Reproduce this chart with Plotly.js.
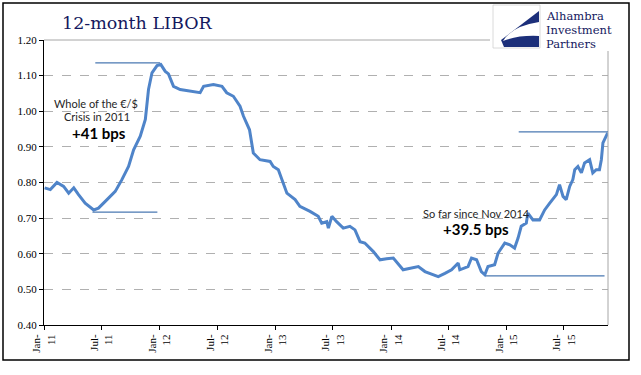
<!DOCTYPE html>
<html>
<head>
<meta charset="utf-8">
<script src="https://cdn.plot.ly/plotly-3.0.1.min.js"></script>
<style>html,body{margin:0;padding:0;background:#fff;}#chart{width:641px;height:375px;}</style>
</head>
<body>
<div id="chart"></div>
<script>
// ---- data ----
const dates = [
"2011-01-03","2011-01-21","2011-02-11","2011-03-04","2011-03-20","2011-04-05","2011-04-20","2011-05-11","2011-06-07","2011-06-22",
"2011-07-19","2011-08-14","2011-09-04","2011-09-25","2011-10-11","2011-11-01","2011-11-17","2011-11-27","2011-12-08","2011-12-24",
"2012-01-05","2012-01-19","2012-01-29","2012-02-14","2012-03-06","2012-04-07","2012-05-08","2012-05-19","2012-06-19","2012-07-16",
"2012-07-31","2012-08-21","2012-09-11","2012-09-22","2012-10-11","2012-10-23","2012-11-13","2012-12-15","2012-12-25","2013-01-10",
"2013-01-26","2013-02-06","2013-03-04","2013-03-19","2013-04-20","2013-05-16","2013-05-27","2013-06-12","2013-06-17","2013-06-28",
"2013-07-13","2013-08-03","2013-08-24","2013-09-09","2013-09-25","2013-10-10","2013-11-06","2013-11-27","2013-12-18","2014-01-08",
"2014-02-08","2014-03-12","2014-03-28","2014-04-18","2014-05-14","2014-05-30","2014-06-20","2014-07-11","2014-08-01","2014-08-06",
"2014-09-01","2014-09-12","2014-09-28","2014-10-13","2014-10-24","2014-11-03","2014-11-24","2014-12-05","2014-12-26","2015-01-11",
"2015-01-26","2015-02-06","2015-02-16","2015-03-04","2015-03-09","2015-03-25","2015-04-15","2015-05-01","2015-05-17","2015-05-27",
"2015-06-07","2015-06-17","2015-06-28","2015-07-08","2015-07-19","2015-07-29","2015-08-04","2015-08-14","2015-08-25","2015-09-04",
"2015-09-20","2015-09-30","2015-10-11","2015-10-21","2015-10-27","2015-11-01","2015-11-12","2015-11-16"
];
const libor = [
0.785,0.780,0.800,0.789,0.770,0.785,0.766,0.742,0.723,0.728,
0.752,0.775,0.808,0.845,0.892,0.930,0.977,1.061,1.108,1.128,
1.131,1.112,1.105,1.070,1.061,1.056,1.052,1.070,1.075,1.070,
1.052,1.042,1.014,0.986,0.948,0.883,0.864,0.859,0.845,0.836,
0.799,0.770,0.752,0.733,0.719,0.705,0.686,0.690,0.672,0.705,
0.690,0.672,0.677,0.667,0.634,0.630,0.606,0.583,0.586,0.588,
0.555,0.560,0.564,0.550,0.541,0.536,0.545,0.555,0.574,0.555,
0.564,0.588,0.583,0.550,0.541,0.564,0.569,0.602,0.630,0.625,
0.616,0.644,0.677,0.686,0.714,0.695,0.695,0.723,0.742,0.752,
0.766,0.794,0.761,0.752,0.789,0.808,0.836,0.845,0.827,0.855,
0.864,0.827,0.836,0.836,0.864,0.911,0.934,0.939
];
const tickDates = ["2011-01-01","2011-07-01","2012-01-01","2012-07-01","2013-01-01","2013-07-01","2014-01-01","2014-07-01","2015-01-01","2015-07-01"];
const tickLabels = ["Jan-<br>11","Jul-<br>11","Jan-<br>12","Jul-<br>12","Jan-<br>13","Jul-<br>13","Jan-<br>14","Jul-<br>14","Jan-<br>15","Jul-<br>15"];
const yTicks = [0.4,0.5,0.6,0.7,0.8,0.9,1.0,1.1,1.2];
const yTickLabels = ["0.40","0.50","0.60","0.70","0.80","0.90","1.00","1.10","1.20"];

// ---- layout helpers (pixel -> paper) ----
const L=44, R=608, T=40, B=325;
const px = x => (x - L) / (R - L);
const py = y => (B - y) / (B - T);

const lineCol = '#4f84c9';
const refCol = '#4a78b2';
const navy = '#14185e';

const trace = {
  x: dates, y: libor, type: 'scatter', mode: 'lines',
  line: {color: lineCol, width: 3}, hoverinfo: 'skip', cliponaxis: true
};

const logoPath = (pts) => pts.map((p,i)=> (i===0?'M ':'L ') + px(p[0]).toFixed(4) + ',' + py(p[1]).toFixed(4)).join(' ') + ' Z';

const shapes = [
  {type:'rect', xref:'paper', yref:'paper', x0:px(3), x1:px(629), y0:py(3), y1:py(360), line:{color:'#000', width:1.5}, layer:'below'},
  {type:'line', xref:'paper', yref:'paper', x0:0, x1:1, y0:1, y1:1, line:{color:'#a6a6a6', width:1}},
  {type:'line', xref:'paper', yref:'paper', x0:1, x1:1, y0:0, y1:1, line:{color:'#a6a6a6', width:1}},
  {type:'line', xref:'x', yref:'y', x0:'2011-06-12', x1:'2012-01-03', y0:1.136, y1:1.136, line:{color:refCol, width:1.2}},
  {type:'line', xref:'x', yref:'y', x0:'2011-06-03', x1:'2011-12-25', y0:0.717, y1:0.717, line:{color:refCol, width:1.2}},
  {type:'line', xref:'x', yref:'y', x0:'2015-02-08', x1:'2015-11-17', y0:0.942, y1:0.942, line:{color:refCol, width:1.2}},
  {type:'line', xref:'x', yref:'y', x0:'2014-10-27', x1:'2015-11-06', y0:0.538, y1:0.538, line:{color:refCol, width:1.2}},
  {type:'rect', xref:'paper', yref:'paper', x0:px(490), x1:px(628), y0:py(4), y1:py(51), fillcolor:'#fff', line:{width:0}, layer:'above'},
  {type:'rect', xref:'paper', yref:'paper', x0:px(493), x1:px(540), y0:py(5), y1:py(48), fillcolor:'#fff', line:{color:'#d0d0d0', width:0.8}, layer:'above'},
  {type:'path', xref:'paper', yref:'paper', layer:'above', fillcolor:'#1c2f7a', line:{width:0},
   path: logoPath([[539,11],[501,40],[504,47],[539,47]])},
  {type:'path', xref:'paper', yref:'paper', layer:'above', fillcolor:'#fff', line:{width:0},
   path: 'M ' + px(539)+','+py(22) + ' Q ' + px(512)+','+py(26) + ' ' + px(503)+','+py(41) +
         ' Q ' + px(518)+','+py(35) + ' ' + px(539)+','+py(36) + ' Z'}
];

const ann = (x, y, text, size, opts={}) => Object.assign({
  xref:'paper', yref:'paper', x:px(x), y:py(y), text:text, showarrow:false,
  xanchor:'center', yanchor:'middle', font:{family:'Lato, "Liberation Sans", sans-serif', size:size, color:'#262626'}
}, opts);

const logoFont = {family:'"DejaVu Serif", serif', size:11.5, color:navy};
const annotations = [
  ann(96, 103, 'Whole of the €/$', 11),
  ann(97, 117, 'Crisis in 2011', 11),
  ann(99, 133, '<b>+41 bps</b>', 15, {font:{family:'Lato, sans-serif', size:15, color:'#000'}}),
  ann(476, 213, 'So far since Nov 2014', 11),
  ann(476, 229, '<b>+39.5 bps</b>', 15, {font:{family:'Lato, sans-serif', size:15, color:'#000'}}),
  ann(545, 16, 'Alhambra', 12, {xanchor:'left', borderpad:0, font:logoFont}),
  ann(545, 30, 'Investment', 12, {xanchor:'left', borderpad:0, font:logoFont}),
  ann(545, 44, 'Partners', 12, {xanchor:'left', borderpad:0, font:logoFont})
];

const layout = {
  width: 641, height: 375,
  margin: {l: L, r: 641 - R, t: T, b: 375 - B, pad: 0},
  paper_bgcolor: '#fff', plot_bgcolor: '#fff',
  showlegend: false,
  title: {text: '12-month LIBOR', x: 62/641, xanchor: 'left', y: 1 - 23/375, yanchor: 'middle',
          font: {family: '"DejaVu Serif", serif', size: 17.5, color: navy}},
  xaxis: {
    type: 'date', range: ['2011-01-01', '2015-11-17'],
    tickmode: 'array', tickvals: tickDates, ticktext: tickLabels, tickangle: -90,
    ticks: 'outside', ticklen: 4, tickcolor: '#000', tickwidth: 1,
    showline: true, linecolor: '#000', linewidth: 1,
    showgrid: false, zeroline: false, fixedrange: true,
    tickfont: {family: '"Liberation Serif", serif', size: 11, color: '#000'}
  },
  yaxis: {
    range: [0.4, 1.2], tickmode: 'array', tickvals: yTicks, ticktext: yTickLabels,
    ticks: 'outside', ticklen: 4, tickcolor: '#000', tickwidth: 1,
    showline: true, linecolor: '#000', linewidth: 1,
    showgrid: true, gridcolor: '#b0b0b0', gridwidth: 1, griddash: 'dash',
    zeroline: false, fixedrange: true,
    tickfont: {family: '"Liberation Serif", serif', size: 11, color: '#000'}
  },
  shapes: shapes,
  annotations: annotations
};

Plotly.newPlot('chart', [trace], layout, {staticPlot: true, displayModeBar: false});
</script>
</body>
</html>
